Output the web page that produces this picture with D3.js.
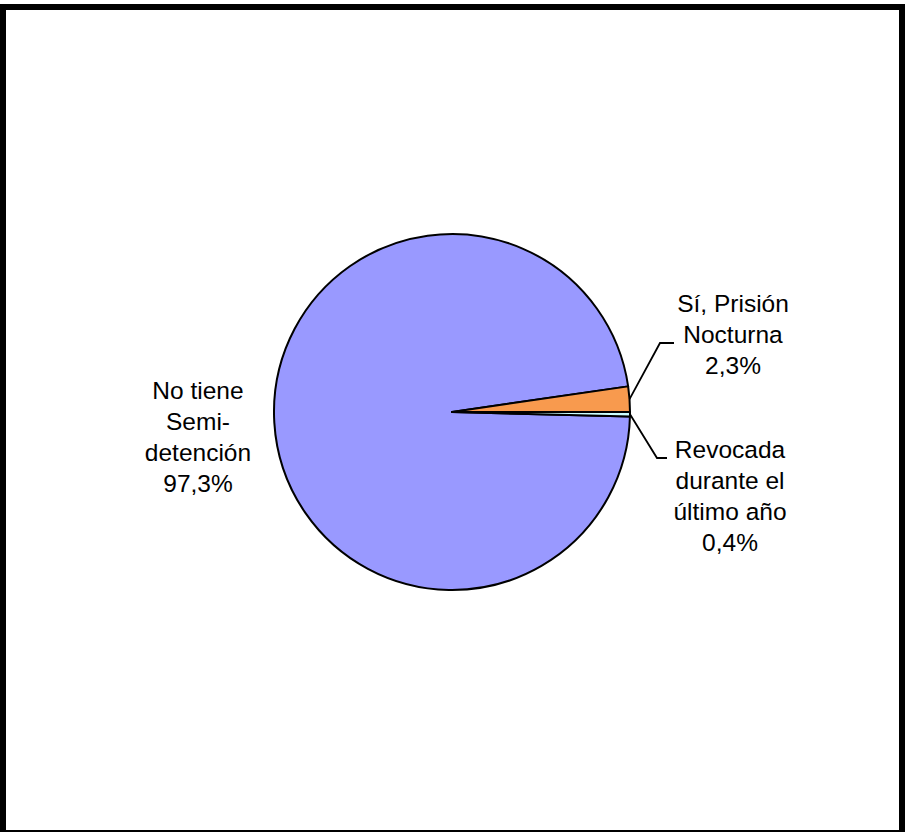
<!DOCTYPE html>
<html><head><meta charset="utf-8">
<script src="https://cdn.jsdelivr.net/npm/d3@7"></script>
<style>body{margin:0;background:#fff}svg{display:block}</style>
</head><body>
<svg id="c" width="906" height="832"></svg>
<script>
const categories = ["No tiene Semi-detención", "Sí, Prisión Nocturna", "Revocada durante el último año"];
const values = [97.3, 2.3, 0.4];
const labelLines = [["No tiene", "Semi-", "detención"], ["Sí, Prisión", "Nocturna"], ["Revocada", "durante el", "último año"]];
const percentLabels = ["97,3%", "2,3%", "0,4%"];
const colors = ["#9999FF", "#F89A4E", "#CCFFFF"];

const svg = d3.select("#c");
svg.append("rect").attr("x", 3).attr("y", 7).attr("width", 899).attr("height", 826)
  .attr("fill", "#fff").attr("stroke", "#000").attr("stroke-width", 6);

const cx = 452, cy = 412, r = 178;
const total = d3.sum(values);
const start = Math.PI / 2 + (values[2] / total) * 2 * Math.PI;
const pie = d3.pie().sort(null).value(d => d).startAngle(start).endAngle(start + 2 * Math.PI);
const arcs = pie(values);
const arc = d3.arc().innerRadius(0).outerRadius(r);
const g = svg.append("g").attr("transform", `translate(${cx},${cy})`);
g.selectAll("path").data(arcs).join("path")
  .attr("d", arc).attr("fill", (d, i) => colors[i])
  .attr("stroke", "#000").attr("stroke-width", 2).attr("stroke-linejoin", "round");

const labelPos = [{x: 198, y: 399}, {x: 733, y: 312}, {x: 730, y: 458}];
const lh = 31;
labelPos.forEach((p, i) => {
  const lines = labelLines[i].concat([percentLabels[i]]);
  const t = svg.append("text").attr("font-family", "Liberation Sans, Arial, sans-serif")
    .attr("font-size", 24.5).attr("fill", "#000").attr("text-anchor", "middle");
  lines.forEach((l, k) => t.append("tspan").attr("x", p.x).attr("y", p.y + k * lh).text(l));
});

const leaders = [null, {mx: 660, my: 343, ex: 674}, {mx: 657, my: 458, ex: 667}];
arcs.forEach((d, i) => {
  const L = leaders[i];
  if (!L) return;
  const a = (d.startAngle + d.endAngle) / 2;
  const sx = cx + r * Math.sin(a), sy = cy - r * Math.cos(a);
  svg.append("path").attr("d", `M${sx},${sy}L${L.mx},${L.my}L${L.ex},${L.my}`)
    .attr("fill", "none").attr("stroke", "#000").attr("stroke-width", 1.8);
});
</script>
</body></html>
